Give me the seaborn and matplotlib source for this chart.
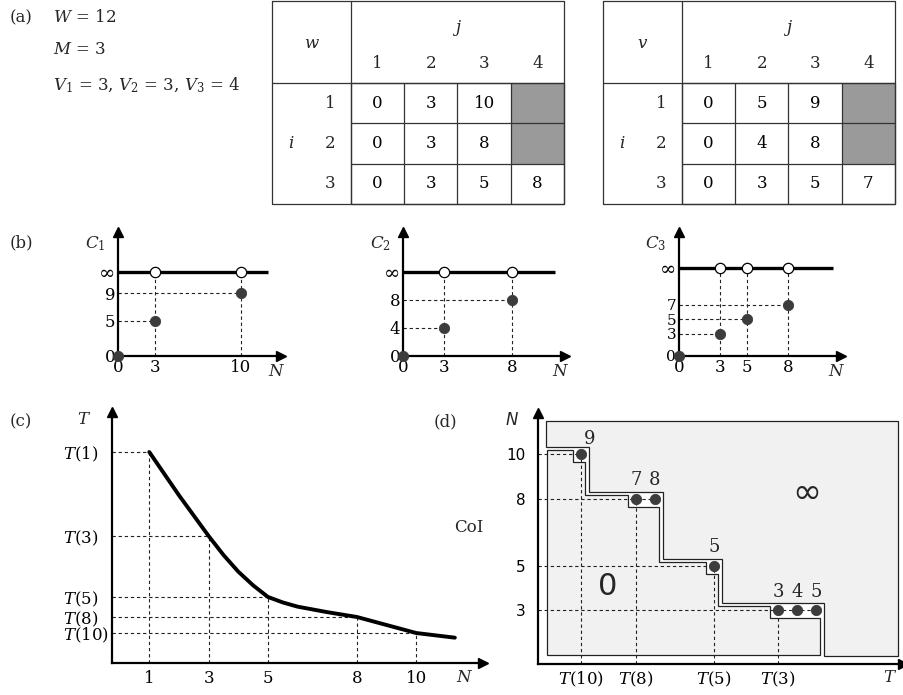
import pandas as pd
import seaborn as sns
import matplotlib.pyplot as plt
from matplotlib.colors import ListedColormap

## data
# (a) weight / value tables, rows i, columns j (None = no item)
w_table = [[0, 3, 10, None], [0, 3, 8, None], [0, 3, 5, 8]]
v_table = [[0, 5, 9, None], [0, 4, 8, None], [0, 3, 5, 7]]
j_labels = ['1', '2', '3', '4']
i_labels = ['1', '2', '3']

# (b) cost C_i against N
c_N = [[0, 3, 10], [0, 3, 8], [0, 3, 5, 8]]
c_cost = [[0, 5, 9], [0, 4, 8], [0, 3, 5, 7]]
INF = 12  # level used for the infinity line

# (c) training time T(N)
curve_N = [1, 2, 3, 3.5, 4, 4.5, 5, 5.5, 6, 7, 8, 9, 10, 11.3]
curve_T = [10.0, 7.95, 6.02, 5.12, 4.33, 3.68, 3.13, 2.87, 2.67, 2.41, 2.18, 1.8, 1.42, 1.2]
marked_N = [1, 3, 5, 8, 10]
marked_T = [10.0, 6.02, 3.13, 2.18, 1.42]

# (d) CoI map
d_N = [10, 8, 5, 3]
d_T = [2.15, 4.9, 8.8, 12.0]
d_cost = [[9], [7, 8], [5], [3, 4, 5]]
d_step = 0.95

## style
sns.set_style('white')
plt.rcParams['font.family'] = ['DejaVu Serif']
plt.rcParams['mathtext.fontset'] = 'dejavuserif'
plt.rcParams['font.size'] = 12

W, H = 904, 695
fig = plt.figure(figsize=(W / 100, H / 100), dpi=100)

def px_axes(x0, y0, x1, y1):
    return fig.add_axes([x0 / W, 1 - y1 / H, (x1 - x0) / W, (y1 - y0) / H])

def arrows(ax, lw=1.6):
    for s in ['top', 'right']:
        ax.spines[s].set_visible(False)
    for s in ['left', 'bottom']:
        ax.spines[s].set_linewidth(lw)
        ax.spines[s].set_color('black')
    ax.plot(1, 0, '>', color='black', ms=7, transform=ax.transAxes, clip_on=False)
    ax.plot(0, 1, '^', color='black', ms=7, transform=ax.transAxes, clip_on=False)

DASH = dict(color='#222222', lw=0.8, linestyle=(0, (3, 2.5)))
PT = '#3c3c3c'

ov = fig.add_axes([0, 0, 1, 1])
ov.set_xlim(0, W)
ov.set_ylim(H, 0)
ov.axis('off')
ov.set_zorder(10)

## (a)
ov.text(10, 18, '(a)', va='center')
ov.text(53, 18, r'$W$ = 12', va='center')
ov.text(53, 50, r'$M$ = 3', va='center')
ov.text(53, 85, r'$V_1$ = 3, $V_2$ = 3, $V_3$ = 4', va='center')

def draw_table(vals, x0, letter):
    xb, x1 = x0 + 79, x0 + 292
    y0, yh, y1 = 1, 83, 204
    ax = px_axes(xb, yh, x1, y1)
    df = pd.DataFrame(vals, dtype=float)
    sns.heatmap(df, ax=ax, cmap=ListedColormap(['white']), cbar=False,
                annot=True, fmt='g', annot_kws={'fontsize': 12, 'color': 'black'},
                xticklabels=False, yticklabels=False, linewidths=0)
    ax.set_facecolor('#9a9a9a')
    ax.hlines(range(len(i_labels) + 1), 0, len(j_labels), color='#333333', lw=0.9, clip_on=False)
    ax.vlines(range(len(j_labels) + 1), 0, len(i_labels), color='#333333', lw=0.9, clip_on=False)
    # header
    ov.plot([x0, x1, x1, x0, x0], [y0, y0, y1, y1, y0], color='#333333', lw=0.9)
    ov.plot([xb, xb], [y0, y1], color='#333333', lw=0.9)
    ov.plot([x0, x1], [yh, yh], color='#333333', lw=0.9)
    ov.text(x0 + 39.5, 43, letter, ha='center', va='center', style='italic')
    ov.text((xb + x1) / 2, 27, 'j', ha='center', va='center', style='italic')
    cw = (x1 - xb) / len(j_labels)
    for k, lab in enumerate(j_labels):
        ov.text(xb + (k + 0.5) * cw, 63, lab, ha='center', va='center')
    rh = (y1 - yh) / len(i_labels)
    ov.text(x0 + 19, yh + 1.5 * rh, 'i', ha='center', va='center', style='italic')
    for r, lab in enumerate(i_labels):
        ov.text(x0 + 58, yh + (r + 0.5) * rh, lab, ha='center', va='center')

draw_table(w_table, 272, 'w')
draw_table(v_table, 603, 'v')

## (b)
ov.text(10, 243, '(b)', va='center')
b_boxes = [(118, 232, 281, 356, 12.3, 12.2, 7.0, 12), (403, 232, 565, 356, 13.6, 11.2, 7.0, 12),
           (679, 232, 841, 356, 13.6, 11.3, 7.35, 11)]
for idx, (x0, y0, x1, y1, ppu, line_end, ppv, fs) in enumerate(b_boxes):
    ax = px_axes(x0, y0, x1, y1)
    ax.set_xlim(0, (x1 - x0) / ppu)
    ax.set_ylim(0, (y1 - y0) / ppv)
    arrows(ax)
    Ns, cs = c_N[idx], c_cost[idx]
    for n, c in zip(Ns[1:], cs[1:]):
        ax.vlines(n, 0, INF, **DASH)
        ax.hlines(c, 0, n, **DASH)
    ax.hlines(INF, 0, line_end, color='black', lw=2.4, zorder=3)
    sns.scatterplot(x=Ns, y=cs, ax=ax, color=PT, s=55, edgecolor=PT, zorder=5, clip_on=False)
    sns.scatterplot(x=Ns[1:], y=[INF] * (len(Ns) - 1), ax=ax, color='white', s=55,
                    edgecolor='black', linewidth=0.9, zorder=5)
    ax.set_xticks(Ns)
    ax.set_xticklabels([str(n) for n in Ns])
    ax.set_yticks(cs + [INF])
    ax.set_yticklabels([str(c) for c in cs] + ['∞'])
    ax.tick_params(axis='x', length=0, pad=2, labelsize=12, colors='black')
    ax.tick_params(axis='y', length=0, pad=2, labelsize=fs, colors='black')
    ax.get_yticklabels()[-1].set_fontsize(14)
    ax.set_xlabel('')
    ax.set_ylabel('')
    ov.text(x0 - 23, 244, rf'$C_{idx + 1}$', ha='center', va='center')
    ov.text(x1 - 4, 372, r'$N$', ha='center', va='center')

## (c)
ov.text(10, 422, '(c)', va='center')
ax = px_axes(112, 412, 483, 663)
xmin, xmax = (112 - 119.6) / 29.67, (483 - 119.6) / 29.67
ax.set_xlim(xmin, xmax)
ax.set_ylim(0, 251 / 21.1)
arrows(ax)
ax.hlines(marked_T, xmin, marked_N, **DASH)
ax.vlines(marked_N, 0, marked_T, **DASH)
sns.lineplot(x=curve_N, y=curve_T, ax=ax, color='black', lw=2.8, sort=False, zorder=4)
ax.set_xticks(marked_N)
ax.set_xticklabels([str(n) for n in marked_N])
ax.set_yticks(marked_T)
ax.set_yticklabels([rf'$T$({n})' for n in marked_N])
ax.tick_params(axis='x', length=0, pad=5, labelsize=12, colors='black')
ax.tick_params(axis='y', length=0, pad=35, labelsize=12, colors='black')
for lab in ax.get_yticklabels():
    lab.set_ha('left')
ax.set_xlabel('')
ax.set_ylabel('')
ov.text(84, 420, r'$T$', ha='center', va='center')
ov.text(465, 677, r'$N$', ha='center', va='center')

## (d)
ov.text(445, 422, '(d)', ha='center', va='center')
ov.text(469, 527, 'CoI', ha='center', va='center')
ax = px_axes(538, 413, 903, 664)
ax.set_xlim(0, 18.25)
ax.set_ylim(0.6, 11.84)
arrows(ax)

pts_t, pts_n, pts_c = [], [], []
for t, n, costs in zip(d_T, d_N, d_cost):
    for k, c in enumerate(costs):
        pts_t.append(t + k * d_step)
        pts_n.append(n)
        pts_c.append(c)

# infinity region (outside the staircase)
u_out, r_out = 0.32, 0.4
left_out, top, right, bottom_out = 0.4, 11.48, 18.0, 0.96
ox, oy = [left_out, right, right], [top, top, bottom_out]
prev = bottom_out
for t, n, costs in sorted(zip(d_T, d_N, d_cost), key=lambda r: r[1]):
    R = t + (len(costs) - 1) * d_step + r_out
    ox += [R, R]
    oy += [prev, n + u_out]
    prev = n + u_out
ox.append(left_out)
oy.append(prev)
ax.fill(ox, oy, facecolor='#f1f1f1', edgecolor='#222222', lw=0.9, zorder=1)

# zero region (inside the staircase)
a_in, b_in, l_in, r_in = 0.18, 0.36, 0.4, 0.22
left_in, bottom_in = 0.45, 1.0
ix, iy = [left_in, left_in], [bottom_in, d_N[0] + a_in]
for k, (t, n, costs) in enumerate(zip(d_T, d_N, d_cost)):
    L = t - l_in
    R = t + (len(costs) - 1) * d_step + r_in
    nxt = d_N[k + 1] + a_in if k + 1 < len(d_N) else bottom_in
    ix += [L, L, R, R]
    iy += [n + a_in, n - b_in, n - b_in, nxt]
ax.fill(ix, iy, facecolor='#f1f1f1', edgecolor='#222222', lw=0.9, zorder=1)

for t, n, costs in zip(d_T, d_N, d_cost):
    ax.hlines(n, 0, t + (len(costs) - 1) * d_step, zorder=2, **DASH)
    ax.vlines(t, 0.6, n, zorder=2, **DASH)
sns.scatterplot(x=pts_t, y=pts_n, ax=ax, color=PT, s=55, edgecolor=PT, zorder=5)
label_dx = [0.45, 0, 0, 0]
k0 = 0
for li, costs in enumerate(d_cost):
    for k, c in enumerate(costs):
        dy = 0.68 if li == 0 else 0.82
        ax.text(pts_t[k0] + (label_dx[li] if k == 0 else 0), pts_n[k0] + dy, str(c),
                ha='center', va='center', fontsize=13, zorder=6)
        k0 += 1
ax.text(13.45, 8.26, '∞', ha='center', va='center', fontsize=25, family='DejaVu Sans')
ax.text(3.5, 4.05, '0', ha='center', va='center', fontsize=22, family='DejaVu Sans')

ax.set_xticks(d_T)
ax.set_xticklabels([rf'$T$({n})' for n in d_N])
ax.set_yticks(d_N)
ax.set_yticklabels([str(n) for n in d_N], family='DejaVu Sans', fontsize=11)
ax.tick_params(axis='x', length=0, pad=4, labelsize=12, colors='black')
ax.tick_params(axis='y', length=0, pad=9, colors='black')
ax.set_xlabel('')
ax.set_ylabel('')
ov.text(512, 420, 'N', ha='center', va='center', family='DejaVu Sans', style='italic')
ov.text(890, 677, r'$T$', ha='center', va='center')

fig.savefig('out.png', dpi=100)
